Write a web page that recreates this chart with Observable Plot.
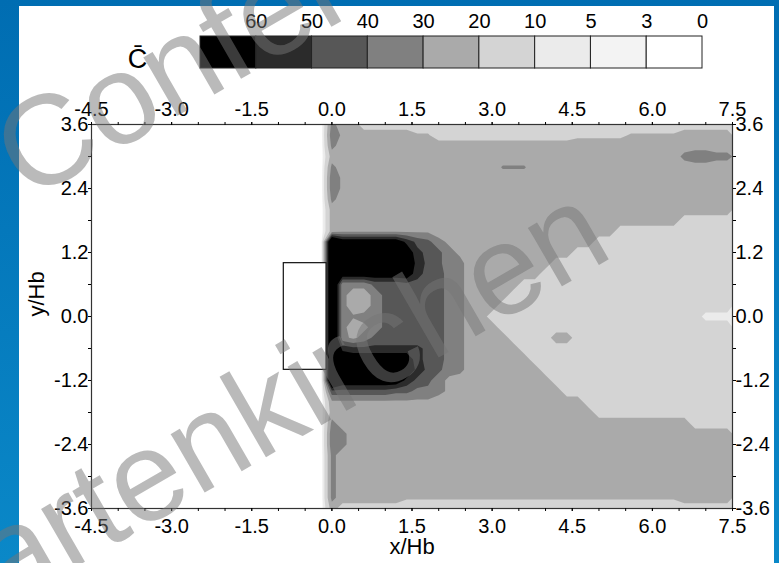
<!DOCTYPE html>
<html>
<head>
<meta charset="utf-8">
<script src="https://cdn.jsdelivr.net/npm/d3@7"></script>
<script src="https://cdn.jsdelivr.net/npm/@observablehq/plot@0.6"></script>
<style>
  html, body { margin: 0; padding: 0; }
  body { width: 779px; height: 563px; position: relative; overflow: hidden;
         background: linear-gradient(180deg, #006db2 0%, #0a88c8 100%);
         font-family: "Liberation Sans", Arial, sans-serif; }
  #panel { position: absolute; left: 19px; top: 6px; width: 755px; height: 557px; background: #fff; }
  .layer { position: absolute; left: 0; top: 0; }
</style>
</head>
<body>
<div id="panel"></div>
<div id="chart" class="layer"></div>
<div id="legend" class="layer"></div>
<svg id="wm" class="layer" width="779" height="563"></svg>
<script>
// ---------- data ----------
const thresholds = [3, 5, 10, 20, 30, 40, 50, 60];
const grays = ["#ffffff", "#f3f3f3", "#ebebeb", "#d4d4d4", "#aaaaaa", "#808080", "#575757", "#2b2b2b", "#000000"];
const legendLevels = [60, 50, 40, 30, 20, 10, 5, 3, 0];
const legendLabels = ["60", "50", "40", "30", "20", "10", "5", "3", "0"];
const legendSymbol = "C\u0304";

const xTicks = [-4.5, -3.0, -1.5, 0.0, 1.5, 3.0, 4.5, 6.0, 7.5];
const xTickLabels = ["-4.5", "-3.0", "-1.5", "0.0", "1.5", "3.0", "4.5", "6.0", "7.5"];
const xMinorTicks = [-4.5, -4.0, -3.5, -3.0, -2.5, -2.0, -1.5, -1.0, -0.5, 0.0, 0.5, 1.0, 1.5,
                     2.0, 2.5, 3.0, 3.5, 4.0, 4.5, 5.0, 5.5, 6.0, 6.5, 7.0, 7.5];
const yTicks = [-3.6, -2.4, -1.2, 0.0, 1.2, 2.4, 3.6];
const yTickLabels = ["-3.6", "-2.4", "-1.2", "0.0", "1.2", "2.4", "3.6"];
const yMinorTicks = [-3.6, -3.0, -2.4, -1.8, -1.2, -0.6, 0.0, 0.6, 1.2, 1.8, 2.4, 3.0, 3.6];
const xLabel = "x/Hb";
const yLabel = "y/Hb";

// building (obstacle) extent, in x/Hb and y/Hb
const buildingX = [-0.9, -0.1];
const buildingY = [-1.0, 1.0];

// concentration samples on a 0.2 x 0.2 grid: columns x = -0.2 ... 7.4, rows y = 3.6 ... -3.6
const gridX = [-0.3, 7.5];
const gridY = [3.7, -3.7];
const codeValue = {".": 0, y: 7, l: 15, L: 18, h: 21, g: 25, G: 28, n: 31, m: 33, M: 37,
                   d: 43, D: 47, e: 53, E: 57, K: 70, Z: 90};
const concentrationRows = [
  ".mggllllll llllllllll llllllllll lllllllll",
  ".MGggggggh hlllllllll llllLLLLLh hhhhggggg",
  ".mgggggggg gggggggggg gggggggggg ggggggggg",
  ".ggggggggg gggggggggg gggggggggg ggggmMMmm",
  ".mgggggggg gggggggnnn gggggggggg ggggggggg",
  ".MGggggggg gggggggggg gggggggggg ggggggggg",
  ".MGggggggg gggggggggg gggggggggg ggggggggg",
  ".mgggggggg gggggggggg gggggggggg ggggggggg",
  ".ggggggggg gggggggggg gggggggggg ggggggggg",
  ".ggggggggg gggggggggg gggggggggg gggglllll",
  ".gGGGGGGGG Gggggggggg ggggggggll lllllllll",
  ".ZKKKKKKED dmGggggggg ggggggllll lllllllll",
  ".ZKKKKKKKe DdmGgggggg ggggllllll lllllllll",
  ".ZKKKKKKKE Ddmmgggggg ggllllllll lllllllll",
  ".ZKKKKKKKe DdMmgggggg glllllllll lllllllll",
  ".ZmmmdddDD DdMmgggggl llllllllll lllllllll",
  ".Zmggmdddd ddMmggggll llllllllll lllllllll",
  ".Zmggmdddd ddMmggglll llllllllll lllllllll",
  ".Zmnmmdddd ddMmggllll llllllllll llllllyyy",
  ".ZmgGmdddd ddMmggglll llllllllll lllllllll",
  ".ZmGmddddd ddMmggggll llggllllll lllllllll",
  ".ZEeeeeeee DdMmgggggl llllllllll lllllllll",
  ".ZKKKKKKKe DdMmgggggg llllllllll lllllllll",
  ".ZKKKKKKKE Ddmmgggggg glllllllll lllllllll",
  ".ZKKKKKKED dmGggggggg ggllllllll lllllllll",
  ".DDDDDDddM MmGggggggg ggglllllll lllllllll",
  ".GGGGGGGGG Gggggggggg ggggglllll lllllllll",
  ".ggggggggg gggggggggg ggggggllll lllllllll",
  ".mgggggggg gggggggggg gggggggggg gggggllll",
  ".Mmggggggg gggggggggg gggggggggg ggggggggg",
  ".Mmggggggg gggggggggg gggggggggg ggggggggg",
  ".mgggggggg gggggggggg gggggggggg ggggggggg",
  ".mgggggggg gggggggggg gggggggggg ggggggggg",
  ".mgggggggg gggggggggg gggggggggg ggggggggg",
  ".mgggggggg gggggggggg gggggggggg ggggggggg",
  ".mgggggghh hhhhhhhhhh hhhhhhhhhh hhhhggggg",
  ".gllllllll llllllllll llllllllll lllllllll"
];
const watermarkLines = ["Conference", "Partenkirchen"];

// ---------- build ----------
const rowsClean = concentrationRows.map(r => r.replace(/ /g, ""));
const gridW = rowsClean[0].length;
const gridH = rowsClean.length;
rowsClean.forEach((r, i) => { if (r.length !== gridW) console.error("row", i, "length", r.length); });
const values = rowsClean.flatMap(r => Array.from(r, c => codeValue[c]));

const font = "'Liberation Sans', Arial, Helvetica, sans-serif";
const fmtX = d => xTickLabels[xTicks.indexOf(d)];
const fmtY = d => yTickLabels[yTicks.indexOf(d)];
const blank = () => "";

const chart = Plot.plot({
  width: 779, height: 563,
  marginTop: 124, marginRight: 47, marginBottom: 55, marginLeft: 91,
  style: {background: "transparent", fontFamily: font, color: "#000", overflow: "visible"},
  x: {domain: [-4.5, 7.5]},
  y: {domain: [-3.6, 3.6]},
  color: {type: "threshold", domain: thresholds, range: grays},
  marks: [
    Plot.contour(values, {
      width: gridW, height: gridH,
      x1: gridX[0], x2: gridX[1], y1: gridY[0], y2: gridY[1],
      fill: Plot.identity, thresholds, stroke: "none", clip: true
    }),
    Plot.rect([0], {x1: buildingX[0], x2: buildingX[1], y1: buildingY[0], y2: buildingY[1],
                    fill: "white", stroke: "#111", strokeWidth: 1.2}),
    Plot.frame({stroke: "#333", strokeWidth: 1.2}),
    Plot.axisX({anchor: "bottom", ticks: xMinorTicks, tickSize: 3, tickFormat: blank, label: null}),
    Plot.axisX({anchor: "top", ticks: xMinorTicks, tickSize: 3, tickFormat: blank, label: null}),
    Plot.axisY({anchor: "left", ticks: yMinorTicks, tickSize: 3, tickFormat: blank, label: null}),
    Plot.axisY({anchor: "right", ticks: yMinorTicks, tickSize: 3, tickFormat: blank, label: null}),
    Plot.axisX({anchor: "bottom", ticks: xTicks, tickSize: 3, tickPadding: 7, tickFormat: fmtX, fontSize: 20, label: null}),
    Plot.axisX({anchor: "top", ticks: xTicks, tickSize: 3, tickPadding: 6, tickFormat: fmtX, fontSize: 20, label: null}),
    Plot.axisY({anchor: "left", ticks: yTicks, tickSize: 3, tickPadding: 0, tickFormat: fmtY, fontSize: 20, label: null}),
    Plot.axisY({anchor: "right", ticks: yTicks, tickSize: 3, tickPadding: 0, tickFormat: fmtY, fontSize: 20, label: null}),
    Plot.text([xLabel], {frameAnchor: "bottom", dy: 45, lineAnchor: "bottom", text: d => d, fontSize: 22}),
    Plot.text([yLabel], {frameAnchor: "left", dx: -55, rotate: -90, text: d => d, fontSize: 22})
  ]
});
document.getElementById("chart").appendChild(chart);

const legend = Plot.plot({
  width: 779, height: 80, margin: 0,
  style: {background: "transparent", fontFamily: font, color: "#000", overflow: "visible"},
  x: {domain: [0, legendLevels.length], range: [200, 702], axis: null},
  y: {domain: [0, 1], range: [68, 36], axis: null},
  color: {type: "threshold", domain: thresholds, range: grays},
  marks: [
    Plot.rect(legendLevels, {x1: (d, i) => i, x2: (d, i) => i + 1, y1: 0, y2: 1,
                             fill: d => d, stroke: "#222", strokeWidth: 1}),
    Plot.text(legendLevels, {x: (d, i) => i + 1, y: 1, dy: -15, text: (d, i) => legendLabels[i], fontSize: 20}),
    Plot.text([legendSymbol], {x: 0, y: 0.5, dx: -63, dy: 7, text: d => d, fontSize: 27})
  ]
});
document.getElementById("legend").appendChild(legend);

// watermark
const wm = d3.select("#wm");
const wmPlacement = [[28, 202], [-68, 650]];
watermarkLines.forEach((t, i) => {
  wm.append("text")
    .attr("transform", `translate(${wmPlacement[i][0]},${wmPlacement[i][1]}) rotate(-30)`)
    .attr("font-family", font)
    .attr("font-size", 128)
    .attr("fill", "rgb(118,118,118)")
    .attr("fill-opacity", 0.5)
    .text(t);
});
</script>
</body>
</html>
